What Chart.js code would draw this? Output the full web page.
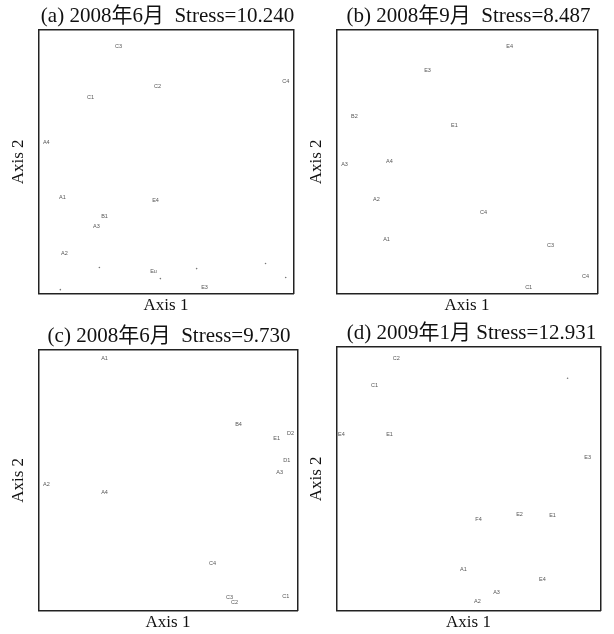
<!DOCTYPE html>
<html>
<head>
<meta charset="utf-8">
<script src="https://cdn.jsdelivr.net/npm/chart.js@4/dist/chart.umd.min.js"></script>
<style>
  body { margin: 0; background: #fff; width: 614px; height: 634px; overflow: hidden; position: relative; }
  .panel { position: absolute; }
</style>
</head>
<body>
<div class="panel" id="panel-a"><canvas id="chart-a"></canvas></div>
<div class="panel" id="panel-b"><canvas id="chart-b"></canvas></div>
<div class="panel" id="panel-c"><canvas id="chart-c"></canvas></div>
<div class="panel" id="panel-d"><canvas id="chart-d"></canvas></div>
<script>
// 图的数据 (NMDS 排序坐标, 读图估计, 0-100 标准化)
const titles = [
    '(a) 2008年6月  Stress=10.240',
    '(b) 2008年9月  Stress=8.487',
    '(c) 2008年6月  Stress=9.730',
    '(d) 2009年1月 Stress=12.931'
];

// (a)  空字符串 = 无标签的小点
const labelsA = ['C3', 'C2', 'C1', 'C4', 'A4', 'A1', 'E4', 'B1', 'A3', 'A2', '', 'Eu', '', '', '', '', 'E3', ''];
const xA = [31.4, 46.7, 20.4, 96.9, 3.1, 9.4, 45.9, 25.9, 22.7, 10.2, 23.9, 45.1, 47.8, 62.0, 89.0, 96.9, 65.1, 8.6];
const yA = [93.9, 78.7, 74.5, 80.6, 57.4, 36.5, 35.4, 29.3, 25.5, 15.2, 9.9, 8.4, 5.7, 9.5, 11.4, 6.1, 2.3, 1.5];

// (b)
const labelsB = ['E4', 'E3', 'B2', 'E1', 'A3', 'A4', 'A2', 'C4', 'A1', 'C3', 'C4', 'C1'];
const xB = [66.3, 34.9, 6.9, 45.2, 3.1, 20.3, 15.3, 56.3, 19.2, 82.0, 95.4, 73.6];
const yB = [93.9, 84.8, 67.3, 63.9, 49.0, 50.2, 35.7, 30.8, 20.5, 18.3, 6.5, 2.3];

// (c)
const labelsC = ['A1', 'A2', 'A4', 'B4', 'D2', 'E1', 'D1', 'A3', 'C4', 'C3', 'C2', 'C1'];
const xC = [25.5, 3.1, 25.5, 77.2, 97.3, 91.9, 95.8, 93.1, 67.2, 73.7, 75.7, 95.4];
const yC = [96.9, 48.5, 45.4, 71.5, 68.1, 66.2, 57.7, 53.1, 18.1, 5.0, 3.1, 5.4];

// (d)
const labelsD = ['C2', 'C1', 'E4', 'E1', '', 'E3', 'F4', 'E2', 'E1', 'A1', 'E4', 'A3', 'A2'];
const xD = [22.7, 14.4, 1.9, 20.1, 87.5, 95.1, 53.8, 69.3, 81.8, 48.1, 78.0, 60.6, 53.4];
const yD = [95.8, 85.6, 66.9, 66.9, 88.2, 58.2, 34.6, 36.5, 36.1, 15.6, 11.8, 6.8, 3.4];

// 每个面板的坐标框位置和标题中心 (像素)
const boxes = [
    { id: 'a', left: 38, top: 30, right: 293, bottom: 293, titleCenter: 167 },
    { id: 'b', left: 336, top: 30, right: 597, bottom: 293, titleCenter: 468 },
    { id: 'c', left: 38, top: 350, right: 297, bottom: 610, titleCenter: 168.5 },
    { id: 'd', left: 336, top: 347, right: 600, bottom: 610, titleCenter: 471 }
];

const serif = '"Liberation Serif", "Noto Sans CJK SC", serif';
const TITLE_H = 30.2, YTITLE_W = 32.4, XTITLE_H = 26.4;

// 在点的位置写小标签
const pointLabels = {
    id: 'pointLabels',
    afterDatasetsDraw(chart) {
        const ctx = chart.ctx;
        const meta = chart.getDatasetMeta(0);
        const data = chart.data.datasets[0].data;
        ctx.save();
        ctx.font = '5.5px "Liberation Sans"';
        ctx.fillStyle = '#555';
        ctx.textAlign = 'center';
        ctx.textBaseline = 'middle';
        meta.data.forEach((pt, i) => {
            if (data[i].label) ctx.fillText(data[i].label, pt.x, pt.y);
        });
        ctx.restore();
    }
};

function hiddenAxis(position) {
    return {
        position: position, min: 0, max: 100,
        grid: { display: false, drawTicks: false },
        ticks: { display: false },
        border: { display: true, color: '#222', width: 1.5 }
    };
}

function drawPanel(box, title, labels, xs, ys) {
    const left = box.left - YTITLE_W;
    const right = 2 * box.titleCenter - left;   // 画布以标题为中心
    const rightGap = right - box.right;
    const top = box.top - TITLE_H;
    const w = right - left;
    const h = box.bottom + XTITLE_H - top;
    const wrap = document.getElementById('panel-' + box.id);
    wrap.style.left = left + 'px';
    wrap.style.top = top + 'px';
    const canvas = document.getElementById('chart-' + box.id);
    canvas.width = Math.round(w);
    canvas.height = Math.round(h);

    const points = labels.map((lb, i) => ({ x: xs[i], y: ys[i], label: lb }));

    new Chart(canvas, {
        type: 'scatter',
        data: {
            datasets: [{
                data: points,
                pointRadius: ctx => (ctx.raw && ctx.raw.label ? 0 : 0.8),
                backgroundColor: '#777',
                borderWidth: 0
            }]
        },
        options: {
            responsive: false,
            animation: false,
            layout: { padding: 0 },
            scales: {
                x: Object.assign(hiddenAxis('bottom'), {
                    title: { display: true, text: 'Axis 1', color: '#111', font: { family: serif, size: 17 }, padding: { top: 2, bottom: 4 } }
                }),
                y: Object.assign(hiddenAxis('left'), {
                    title: { display: true, text: 'Axis 2', color: '#111', font: { family: serif, size: 17 }, padding: { top: 2, bottom: 10 } }
                }),
                x2: hiddenAxis('top'),
                y2: Object.assign(hiddenAxis('right'), {
                    afterFit: scale => { scale.width = rightGap; }
                })
            },
            plugins: {
                legend: { display: false },
                tooltip: { enabled: false },
                title: {
                    display: true, text: title, color: '#111',
                    font: { family: serif, size: 21, weight: 'normal' },
                    padding: { top: 4, bottom: 1 }
                }
            }
        },
        plugins: [pointLabels]
    });
}

drawPanel(boxes[0], titles[0], labelsA, xA, yA);
drawPanel(boxes[1], titles[1], labelsB, xB, yB);
drawPanel(boxes[2], titles[2], labelsC, xC, yC);
drawPanel(boxes[3], titles[3], labelsD, xD, yD);
</script>
</body>
</html>
